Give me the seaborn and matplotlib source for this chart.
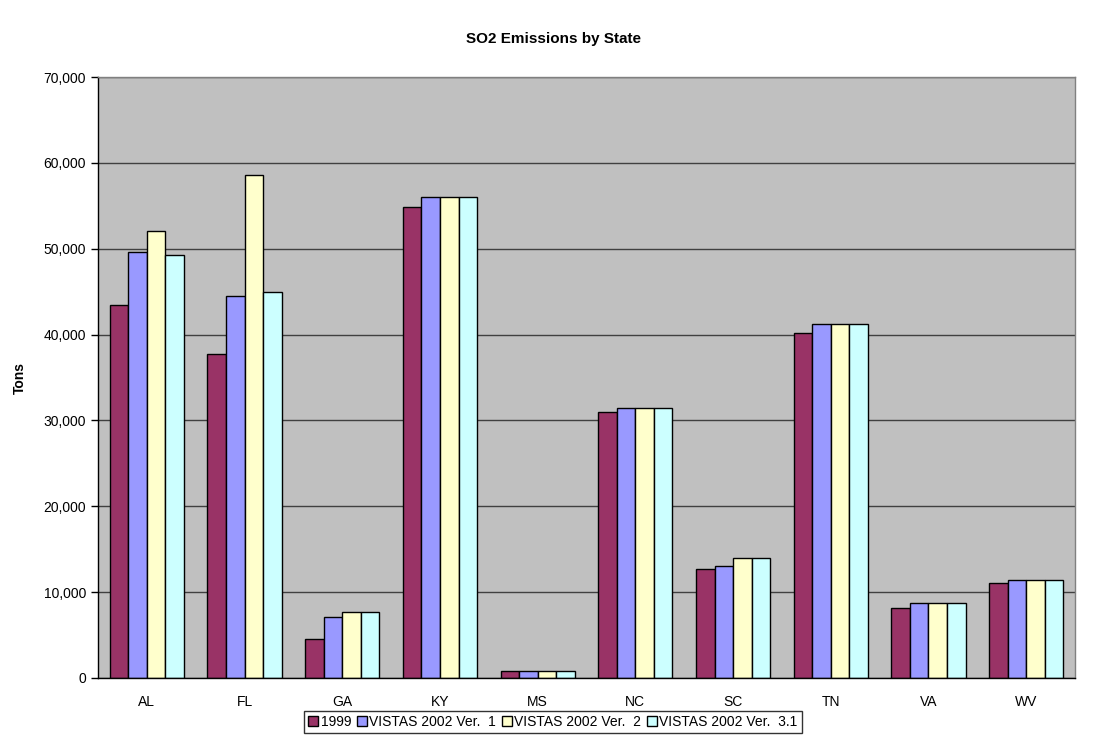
import numpy as np
import pandas as pd
import matplotlib
matplotlib.use('Agg')
import matplotlib.pyplot as plt
import seaborn as sns
from matplotlib.ticker import FuncFormatter

states = ['AL', 'FL', 'GA', 'KY', 'MS', 'NC', 'SC', 'TN', 'VA', 'WV']
series = ['1999', 'VISTAS 2002 Ver.  1', 'VISTAS 2002 Ver.  2', 'VISTAS 2002 Ver.  3.1']

so2_1999 = [43400, 37740, 4550, 54870, 820, 30970, 12700, 40180, 8160, 11080]
so2_v1 = [49630, 44450, 7080, 55990, 850, 31480, 13060, 41230, 8780, 11460]
so2_v2 = [52100, 58560, 7660, 55990, 850, 31480, 14030, 41230, 8780, 11460]
so2_v31 = [49240, 44920, 7660, 55990, 850, 31480, 14030, 41230, 8780, 11460]

colors = ['#993366', '#9999FF', '#FFFFCC', '#CCFFFF']

rows = []
for name, vals in zip(series, [so2_1999, so2_v1, so2_v2, so2_v31]):
    for st, v in zip(states, vals):
        rows.append({'state': st, 'series': name, 'tons': v})
df = pd.DataFrame(rows)

sns.set_style('white')
plt.rcParams['font.family'] = ['Liberation Sans', 'DejaVu Sans']
plt.rcParams['text.color'] = 'black'
plt.rcParams['axes.labelcolor'] = 'black'
plt.rcParams['xtick.color'] = 'black'
plt.rcParams['ytick.color'] = 'black'

fig = plt.figure(figsize=(11.06, 7.55), dpi=100)
ax = fig.add_axes([0.0886, 0.102, 0.8834, 0.796])
ax.set_facecolor('#C0C0C0')

sns.barplot(data=df, x='state', y='tons', hue='series', palette=colors, saturation=1,
            width=0.76, edgecolor='black', linewidth=1.0, ax=ax, legend=True)

ax.set_ylim(0, 70000)
ax.set_xlim(-0.5, len(states) - 0.5)
ax.set_yticks(np.arange(0, 70001, 10000))
ax.yaxis.set_major_formatter(FuncFormatter(lambda v, p: f'{int(v):,}'))
ax.yaxis.grid(True, color='#404040', linewidth=1.0)
ax.set_axisbelow(True)

# category labels at centres, tick marks between categories
ax.set_xticks(np.arange(len(states)))
ax.set_xticklabels(states)
ax.set_xticks(np.arange(-0.5, len(states) + 0.5, 1), minor=True)
ax.tick_params(axis='x', which='major', length=0, pad=12, labelsize=10)
ax.tick_params(axis='x', which='minor', length=5, width=1, direction='out', color='black')
ax.tick_params(axis='y', length=5, width=1, direction='out', color='black', labelsize=10, left=True)

for s in ['left', 'bottom']:
    ax.spines[s].set_color('black')
    ax.spines[s].set_linewidth(1.0)
for s in ['top', 'right']:
    ax.spines[s].set_color('#808080')
    ax.spines[s].set_linewidth(1.0)

ax.set_xlabel('')
ax.set_ylabel('Tons', fontsize=10, fontweight='bold', labelpad=12)
fig.text(0.5, 0.949, 'SO2 Emissions by State', ha='center', va='center',
         fontsize=11, fontweight='bold')

handles, labels = ax.get_legend_handles_labels()
ax.get_legend().remove()
leg = fig.legend(handles, labels, loc='center', bbox_to_anchor=(0.5, 0.044), ncol=4,
                 frameon=True, fancybox=False, fontsize=10, handlelength=0.7,
                 handleheight=0.7, handletextpad=0.2, columnspacing=0.4,
                 borderpad=0.3, edgecolor='black')
leg.get_frame().set_linewidth(1.0)

fig.savefig('out.png', dpi=100)
